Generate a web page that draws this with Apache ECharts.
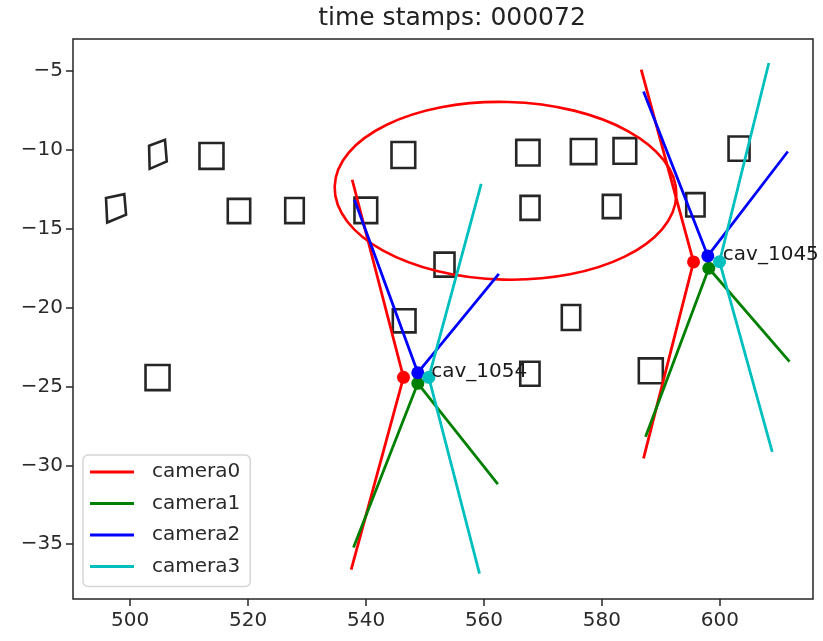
<!DOCTYPE html>
<html>
<head>
<meta charset="utf-8">
<script src="https://cdn.jsdelivr.net/npm/echarts@6/dist/echarts.min.js"></script>
<style>
  html, body { margin: 0; padding: 0; background: #fff; }
  #chart { width: 823px; height: 641px; }
</style>
</head>
<body>
<div id="chart"></div>
<script>
// tick labels
const xTicks = [500, 520, 540, 560, 580, 600];
const yTicks = [-5, -10, -15, -20, -25, -30, -35];

const cameraNames = ['camera0', 'camera1', 'camera2', 'camera3'];
const cameraColors = ['#ff0000', '#008000', '#0000ff', '#00bfbf'];

// vehicle boxes, axis aligned: [x1, y1, x2, y2]
const rectBoxes = [
  [511.75, -9.57, 515.82, -11.21],
  [516.55, -13.11, 520.35, -14.65],
  [526.29, -13.06, 529.44, -14.65],
  [538.04, -13.03, 541.89, -14.65],
  [544.32, -9.51, 548.34, -11.16],
  [565.47, -9.37, 569.42, -11.0],
  [574.73, -9.32, 579.04, -10.91],
  [581.97, -9.26, 585.82, -10.89],
  [566.2, -12.92, 569.42, -14.44],
  [580.15, -12.86, 583.16, -14.33],
  [551.61, -16.52, 555.0, -18.04],
  [544.54, -20.11, 548.39, -21.57],
  [566.15, -23.43, 569.42, -24.96],
  [502.6, -23.64, 506.67, -25.23],
  [573.2, -19.84, 576.32, -21.42],
  [586.26, -23.22, 590.33, -24.8],
  [601.48, -9.16, 605.04, -10.7],
  [594.3, -12.75, 597.41, -14.23]
];
// rotated boxes, corners
const skewBoxes = [
  [[495.9, -13.06], [499.0, -12.81], [499.3, -14.12], [496.1, -14.61]],
  [[503.2, -9.75], [505.9, -9.37], [506.2, -10.74], [503.3, -11.21]]
];

// camera positions per vehicle (camera0..3)
const cav1054Cams = [[546.35, -24.42], [548.78, -24.80], [548.78, -24.13], [550.64, -24.42]];
const cav1045Cams = [[595.54, -17.11], [598.13, -17.51], [597.96, -16.73], [599.95, -17.09]];
// field of view edge end points per camera
const cav1054Fov = [
  [[537.65, -11.90], [537.48, -36.61]],
  [[537.87, -35.21], [562.35, -31.19]],
  [[538.04, -13.17], [562.52, -17.87]],
  [[559.53, -12.16], [559.24, -36.86]]
];
const cav1045Fov = [
  [[586.67, -4.92], [587.06, -29.56]],
  [[587.40, -28.19], [611.82, -23.43]],
  [[587.06, -6.30], [611.53, -10.11]],
  [[608.31, -4.50], [608.89, -29.14]]
];

const cavLabels = [['cav_1054', 551.05, -24.09], ['cav_1045', 600.51, -16.66]];

// ellipse: center x, center y, half width, half height
const ellipse = [563.65, -12.6, 28.98, 5.63];

const font = 'DejaVu Sans';
const boxList = rectBoxes.map(b => [[b[0], b[1]], [b[2], b[1]], [b[2], b[3]], [b[0], b[3]]]).concat(skewBoxes);

const series = [];
series.push({
  type: 'custom',
  name: 'boxes',
  data: boxList.map(b => b[0]),
  renderItem(params, api) {
    const pts = boxList[params.dataIndex].map(p => api.coord(p));
    return {
      type: 'polygon',
      shape: { points: pts },
      style: { fill: 'none', stroke: '#262626', lineWidth: 2.6 }
    };
  },
  z: 1
});
series.push({
  type: 'custom',
  name: 'ellipse',
  data: [ellipse],
  renderItem(params, api) {
    const c = api.coord([api.value(0), api.value(1)]);
    const s = api.size([api.value(2), api.value(3)]);
    return {
      type: 'ellipse',
      shape: { cx: c[0], cy: c[1], rx: s[0], ry: s[1] },
      rotation: -0.025,
      originX: c[0],
      originY: c[1],
      style: { fill: 'none', stroke: '#ff0000', lineWidth: 2.6 }
    };
  },
  z: 2
});

[[cav1054Cams, cav1054Fov], [cav1045Cams, cav1045Fov]].forEach(([cams, fov]) => {
  cameraNames.forEach((name, i) => {
    series.push({
      type: 'line',
      name: name,
      data: [fov[i][0], cams[i], fov[i][1]],
      showSymbol: false,
      lineStyle: { color: cameraColors[i], width: 2.8 },
      itemStyle: { color: cameraColors[i] },
      z: 3
    });
  });
});
[cav1054Cams, cav1045Cams].forEach(cams => {
  cameraNames.forEach((name, i) => {
    series.push({
      type: 'scatter',
      name: name,
      data: [cams[i]],
      symbolSize: 13,
      itemStyle: { color: cameraColors[i], opacity: 1 },
      z: 4
    });
  });
});
series.push({
  type: 'scatter',
  name: 'labels',
  data: cavLabels.map(l => ({ name: l[0], value: [l[1], l[2]] })),
  symbolSize: 0,
  itemStyle: { opacity: 1 },
  label: {
    show: true,
    position: 'right',
    distance: 0,
    formatter: p => p.name,
    fontFamily: font,
    fontSize: 20,
    color: '#1a1a1a'
  },
  z: 5
});

const chart = echarts.init(document.getElementById('chart'));
chart.setOption({
  animation: false,
  backgroundColor: '#fff',
  title: {
    text: 'time stamps: 000072',
    left: 447,
    top: 1,
    textAlign: 'center',
    textStyle: { fontFamily: font, fontSize: 25, fontWeight: 'normal', color: '#222' }
  },
  legend: {
    data: cameraNames,
    orient: 'vertical',
    left: 83,
    top: 455,
    icon: 'rect',
    itemWidth: 44,
    itemHeight: 3,
    itemGap: 9.5,
    padding: [6, 10, 9, 7],
    backgroundColor: '#fff',
    borderColor: '#d6d6d6',
    borderWidth: 1.5,
    borderRadius: 5,
    textStyle: { fontFamily: font, fontSize: 20, color: '#2a2a2a', lineHeight: 22, padding: [0, 0, 0, 13] }
  },
  grid: {
    left: 73, right: 10, top: 39, bottom: 42,
    show: true, borderColor: '#262626', borderWidth: 1.5, backgroundColor: 'transparent'
  },
  xAxis: {
    type: 'value',
    min: 490.3,
    max: 615.8,
    splitLine: { show: false },
    axisLine: { show: false },
    axisTick: { show: true, customValues: xTicks, length: 7, lineStyle: { color: '#262626', width: 1.5 } },
    axisLabel: { customValues: xTicks, margin: 12, fontFamily: font, fontSize: 20, color: '#2a2a2a' }
  },
  yAxis: {
    type: 'value',
    min: -38.47,
    max: -2.98,
    splitLine: { show: false },
    axisLine: { show: false },
    axisTick: { show: true, customValues: yTicks, length: 7, lineStyle: { color: '#262626', width: 1.5 } },
    axisLabel: {
      customValues: yTicks, margin: 10, fontFamily: font, fontSize: 20, color: '#2a2a2a',
      formatter: v => String(v).replace('-', '\u2212')
    }
  },
  series: series
});
</script>
</body>
</html>
